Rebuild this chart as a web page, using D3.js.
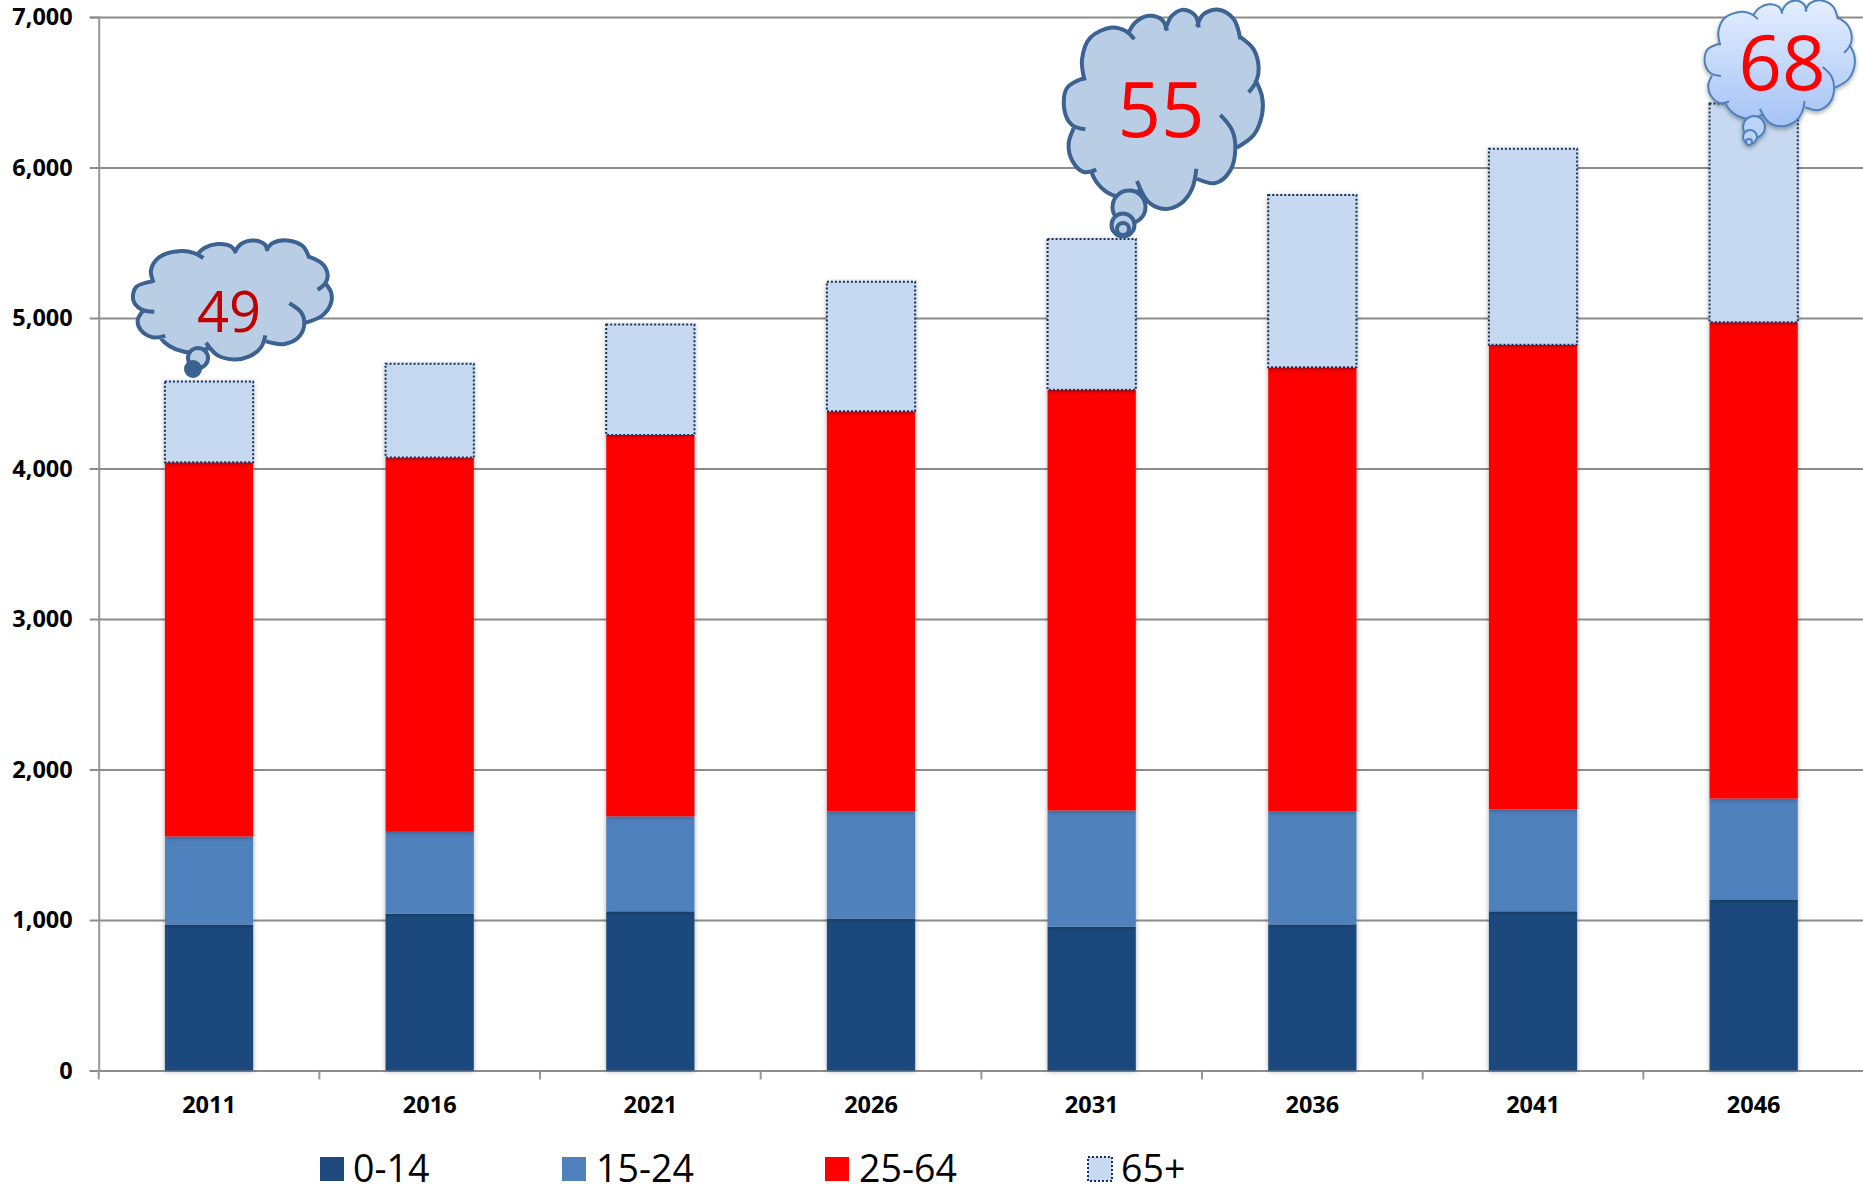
<!DOCTYPE html>
<html>
<head>
<meta charset="utf-8">
<script src="https://cdn.jsdelivr.net/npm/d3@7"></script>
<style>
  html, body { margin: 0; padding: 0; background: #fff; }
  svg { display: block; font-family: "Open Sans", "Noto Sans", sans-serif; }
</style>
</head>
<body>
<svg id="chart" width="1863" height="1186"></svg>
<script>
// Population by age group, in thousands, census year and projections
const years = ["2011", "2016", "2021", "2026", "2031", "2036", "2041", "2046"];
const ageGroups = ["0-14", "15-24", "25-64", "65+"];
const age0to14 = [970, 1042, 1058, 1010, 955, 971, 1058, 1137];
const age15to24 = [585, 544, 631, 711, 773, 750, 678, 670];
const age25to64 = [2486, 2487, 2534, 2659, 2795, 2951, 3086, 3165];
const age65plus = [537, 623, 734, 861, 1002, 1145, 1303, 1453];
const yTicks = [0, 1000, 2000, 3000, 4000, 5000, 6000, 7000];

// Dependency figures shown in the thought bubbles
const bubbleLabels = ["49", "55", "68"];

const groupColors = ["#1f497d", "#4f81bd", "#ff0000", "#c6d9f1"];

const svg = d3.select("#chart");
const plotLeft = 98.7, plotRight = 1864, plotTop = 17, plotBottom = 1070.5;

const x = d3.scaleBand().domain(years).range([plotLeft, plotRight]).paddingInner(0.6).paddingOuter(0.3);
const y = d3.scaleLinear().domain([0, 7000]).range([plotBottom, plotTop]);

const defs = svg.append("defs");
const barShadow = defs.append("filter").attr("id", "barShadow")
  .attr("x", "-10%").attr("y", "-5%").attr("width", "120%").attr("height", "110%");
barShadow.append("feDropShadow").attr("dx", 0).attr("dy", 1).attr("stdDeviation", 2.5)
  .attr("flood-color", "#000").attr("flood-opacity", 0.3);
const cloudShadow = defs.append("filter").attr("id", "cloudShadow")
  .attr("x", "-10%").attr("y", "-10%").attr("width", "120%").attr("height", "125%");
cloudShadow.append("feDropShadow").attr("dx", 0).attr("dy", 2).attr("stdDeviation", 2)
  .attr("flood-color", "#000").attr("flood-opacity", 0.35);
const sky = defs.append("linearGradient").attr("id", "skyFill")
  .attr("x1", 0).attr("y1", 0).attr("x2", 0).attr("y2", 1);
sky.append("stop").attr("offset", "0%").attr("stop-color", "#e4eeff");
sky.append("stop").attr("offset", "100%").attr("stop-color", "#a5c3f5");

// Value axis with gridlines running across the plot
const yAxis = svg.append("g")
  .attr("transform", `translate(${plotLeft},0)`)
  .call(d3.axisLeft(y).tickValues(yTicks).tickFormat(d3.format(",")).tickSize(9).tickPadding(17));
yAxis.select(".domain").attr("stroke", "#979797").attr("stroke-width", 2);
yAxis.selectAll(".tick line").attr("stroke", "#8c8c8c").attr("stroke-width", 2);
yAxis.selectAll(".tick").append("line")
  .attr("x1", 0).attr("x2", 1863 - plotLeft)
  .attr("stroke", "#8c8c8c").attr("stroke-width", 2);
yAxis.selectAll(".tick text")
  .attr("font-family", "'Open Sans', sans-serif")
  .attr("font-size", 23.5).attr("font-weight", 700).attr("fill", "#000");

// Category axis; its ticks sit between the columns
const xAxis = svg.append("g")
  .attr("transform", `translate(0,${plotBottom})`)
  .call(d3.axisBottom(x).tickSize(0));
xAxis.select(".domain").attr("stroke", "#8c8c8c").attr("stroke-width", 2);
xAxis.selectAll(".tick text")
  .attr("font-family", "'Open Sans', sans-serif")
  .attr("font-size", 23.5).attr("font-weight", 700).attr("fill", "#000")
  .attr("y", 42.5).attr("dy", 0);
xAxis.selectAll("line.sep")
  .data(years)
  .join("line")
  .attr("class", "sep")
  .attr("x1", d => x(d) - x.step() * x.paddingOuter())
  .attr("x2", d => x(d) - x.step() * x.paddingOuter())
  .attr("y1", 0).attr("y2", 9)
  .attr("stroke", "#979797").attr("stroke-width", 2);

// Stacked columns
const rows = years.map((year, i) => ({
  year,
  "0-14": age0to14[i],
  "15-24": age15to24[i],
  "25-64": age25to64[i],
  "65+": age65plus[i]
}));
const layers = d3.stack().keys(ageGroups)(rows);
const layerGroups = svg.append("g").selectAll("g")
  .data(layers)
  .join("g")
  .attr("fill", (d, i) => groupColors[i])
  .attr("filter", "url(#barShadow)");
layerGroups.selectAll("rect")
  .data(d => d.map(v => ({ v, key: d.key })))
  .join("rect")
  .attr("x", d => x(d.v.data.year))
  .attr("width", x.bandwidth())
  .attr("y", d => y(d.v[1]))
  .attr("height", d => y(d.v[0]) - y(d.v[1]))
  .attr("stroke", d => d.key === "65+" ? "#14305f" : "none")
  .attr("stroke-width", d => d.key === "65+" ? 2 : 0)
  .attr("stroke-dasharray", d => d.key === "65+" ? "2 2" : null);

// Legend
const legendSwatchX = [320, 562, 825, 1088];
const legendLabelX = [353, 596, 859, 1121];
const legend = svg.append("g");
ageGroups.forEach((g, i) => {
  legend.append("rect")
    .attr("x", legendSwatchX[i]).attr("y", 1157).attr("width", 24).attr("height", 24)
    .attr("fill", groupColors[i])
    .attr("stroke", g === "65+" ? "#14305f" : "none")
    .attr("stroke-width", g === "65+" ? 2 : 0)
    .attr("stroke-dasharray", g === "65+" ? "2 2" : null);
  legend.append("text")
    .attr("x", legendLabelX[i]).attr("y", 1181.5)
    .attr("font-size", 37.5).attr("fill", "#000")
    .text(g);
});

// Cloud outline: each lobe is a separate stroke whose ends tuck inside the shape
const cloudLobes = [
  [[133,243],[125,180],[150,115],[215,85],[255,95],[282,120]],
  [[265,100],[285,70],[325,50],[365,62],[380,95]],
  [[375,92],[395,50],[430,32],[465,50],[475,85]],
  [[470,82],[490,45],[535,32],[580,60],[600,120]],
  [[595,110],[640,150],[655,205],[648,245],[625,278]],
  [[645,240],[665,290],[665,345],[640,405],[590,442]],
  [[540,345],[575,390],[585,445],[570,510],[525,548],[470,535]],
  [[468,505],[455,565],[420,610],[375,625],[325,605],[290,542]],
  [[300,568],[250,590],[200,575],[165,540],[152,510]],
  [[168,508],[130,515],[95,480],[85,430],[100,385]],
  [[135,388],[95,375],[72,330],[80,265],[133,235]]
];
const lobeLine = d3.line().curve(d3.curveCatmullRom.alpha(0.5));

function drawCloud(spec) {
  const g = svg.append("g").attr("filter", spec.shadow ? "url(#cloudShadow)" : null);
  const sx = d3.scaleLinear().domain([68, 668]).range(spec.xRange);
  const sy = d3.scaleLinear().domain([30, 628]).range(spec.yRange);
  const lobes = cloudLobes.map(l => l.map(p => [sx(p[0]), sy(p[1])]));

  g.append("path")
    .attr("d", lobes.map(l => lobeLine(l)).join(" ").replace(/ M/g, " L") + "Z")
    .attr("fill", spec.fill).attr("stroke", "none");
  g.append("path")
    .attr("d", lobes.map(l => lobeLine(l)).join(" "))
    .attr("fill", "none").attr("stroke", spec.stroke)
    .attr("stroke-width", spec.strokeWidth).attr("stroke-linecap", "butt");

  // Trailing puffs sit over the cloud's lower edge
  g.selectAll("circle").data(spec.puffs).join("circle")
    .attr("cx", d => d[0]).attr("cy", d => d[1]).attr("r", d => d[2])
    .attr("fill", (d, i) => spec.solidPuff && i === 1 ? spec.stroke : spec.puffFill)
    .attr("stroke", spec.stroke).attr("stroke-width", spec.strokeWidth);

  svg.append("text")
    .attr("x", spec.textX).attr("y", spec.textY).attr("text-anchor", "middle")
    .attr("font-size", spec.fontSize).attr("fill", spec.textColor)
    .text(spec.label);
}

drawCloud({
  label: bubbleLabels[0], textColor: "#c00000", fontSize: 56, textX: 229, textY: 332,
  xRange: [132, 332], yRange: [240, 360],
  fill: "#b9cde5", puffFill: "#b9cde5", stroke: "#3b6290", strokeWidth: 4, solidPuff: true,
  puffs: [[198, 358, 10], [193, 369, 7]]
});
drawCloud({
  label: bubbleLabels[1], textColor: "#ff0000", fontSize: 76, textX: 1161, textY: 137,
  xRange: [1063, 1263], yRange: [9, 210],
  fill: "#b9cde5", puffFill: "#b9cde5", stroke: "#3b6290", strokeWidth: 4,
  puffs: [[1129, 207, 16.5], [1123, 225, 11.5], [1123, 229, 6]]
});
drawCloud({
  label: bubbleLabels[2], textColor: "#ff0000", fontSize: 76, textX: 1782, textY: 90,
  xRange: [1704, 1855], yRange: [0, 127],
  fill: "url(#skyFill)", puffFill: "#bcd3f8", stroke: "#4f81bd", strokeWidth: 2, shadow: true,
  puffs: [[1754, 127, 11], [1750, 137, 7], [1749, 142, 3]]
});
</script>
</body>
</html>
